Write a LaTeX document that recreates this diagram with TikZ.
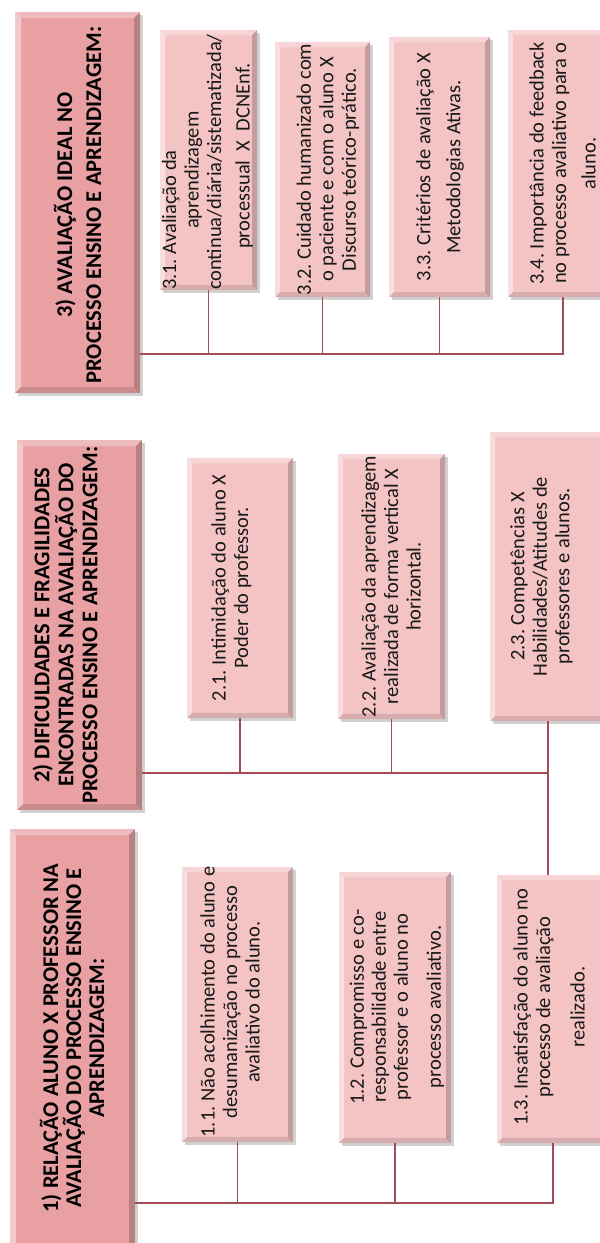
\documentclass[tikz,border=0pt]{standalone}
\usepackage{fontspec}
\setmainfont{Carlito}
\usetikzlibrary{shadows}
\definecolor{mainfill}{RGB}{232,160,162}
\definecolor{subfill}{RGB}{244,196,197}
\definecolor{conncol}{RGB}{164,76,86}
\frenchspacing
\tikzset{
  bevel/.style={path picture={
    \fill[white,opacity=0.45] (path picture bounding box.north west) -- (path picture bounding box.south west) -- ([xshift=#1,yshift=#1]path picture bounding box.south west) -- ([xshift=#1,yshift=-#1]path picture bounding box.north west) -- cycle;
    \fill[white,opacity=0.30] (path picture bounding box.north west) -- (path picture bounding box.north east) -- ([xshift=-#1,yshift=-#1]path picture bounding box.north east) -- ([xshift=#1,yshift=-#1]path picture bounding box.north west) -- cycle;
    \fill[black,opacity=0.20] (path picture bounding box.north east) -- (path picture bounding box.south east) -- ([xshift=-#1,yshift=#1]path picture bounding box.south east) -- ([xshift=-#1,yshift=-#1]path picture bounding box.north east) -- cycle;
    \fill[black,opacity=0.12] (path picture bounding box.south west) -- (path picture bounding box.south east) -- ([xshift=-#1,yshift=#1]path picture bounding box.south east) -- ([xshift=#1,yshift=#1]path picture bounding box.south west) -- cycle;
  }},
  mainbox/.style={rectangle, fill=mainfill, inner sep=0pt, bevel=6pt,
    drop shadow={shadow xshift=2.5pt, shadow yshift=-2.5pt, opacity=0.35}},
  subbox/.style={rectangle, fill=subfill, inner sep=0pt, bevel=5pt,
    drop shadow={shadow xshift=2.5pt, shadow yshift=-2.5pt, opacity=0.35}},
  maintxt/.style={rotate=90, align=center, inner sep=0pt, text=black,
    font=\bfseries\fontsize{22.5}{#1}\selectfont},
  subtxt/.style={rotate=90, align=center, inner sep=0pt, text=black!90,
    font=\fontsize{20.5}{#1}\selectfont},
  conn/.style={draw=conncol, line width=1.7pt},
}
\begin{document}
\begin{tikzpicture}[x=1pt, y=-1pt]
\useasboundingbox (0,0) rectangle (600,1243);
\clip (0,0) rectangle (600,1243);
\fill[white] (0,0) rectangle (600,1243);

% main boxes
\node[mainbox, minimum width=125pt, minimum height=381pt] (m3) at (77.5,202.5) {};
\node[mainbox, minimum width=125pt, minimum height=370pt] (m2) at (79.5,625) {};
\node[mainbox, minimum width=125pt, minimum height=426pt] (m1) at (72.5,1042) {};

% sub boxes group 3
\node[subbox, minimum width=97pt, minimum height=260pt] (s31) at (208.5,160) {};
\node[subbox, minimum width=95pt, minimum height=255pt] (s32) at (322.5,169.5) {};
\node[subbox, minimum width=101pt, minimum height=260pt] (s33) at (439.5,167) {};
\node[subbox, minimum width=110pt, minimum height=267pt] (s34) at (563,163.5) {};
% group 2
\node[subbox, minimum width=106pt, minimum height=260pt] (s21) at (240,588) {};
\node[subbox, minimum width=107pt, minimum height=265pt] (s22) at (391.5,586.5) {};
\node[subbox, minimum width=116pt, minimum height=289pt] (s23) at (548,576.5) {};
% group 1
\node[subbox, minimum width=111pt, minimum height=275pt] (s11) at (237.5,1004.5) {};
\node[subbox, minimum width=112pt, minimum height=271pt] (s12) at (395,1007.5) {};
\node[subbox, minimum width=112pt, minimum height=268pt] (s13) at (553,1009) {};

% texts
\node[maintxt=29pt] (t3) at (77.5,205) {3) AVALIAÇÃO IDEAL NO\\PROCESSO ENSINO E APRENDIZAGEM:};
\node[maintxt=24pt] (t2) at (65,625) {2) DIFICULDADES E FRAGILIDADES\\ENCONTRADAS NA AVALIAÇÃO DO\\PROCESSO ENSINO E APRENDIZAGEM:};
\node[maintxt=23pt] (t1) at (72,1038) {1) RELAÇÃO ALUNO X PROFESSOR NA\\AVALIAÇÃO DO PROCESSO ENSINO E\\APRENDIZAGEM:};

\node[subtxt=22.5pt, align=left] (t31) at (207.5,162) {3.1. Avaliação da\\\hspace*{61pt}aprendizagem\\continua/diária/sistematizada/\\[6pt]\hspace*{41pt}processual\ \ X\ \ DCNEnf.};
\node[subtxt=22.5pt] (t32) at (328,169.5) {3.2. Cuidado humanizado com\\o paciente e com o aluno X\\Discurso teórico-prático.};
\node[subtxt=30pt] (t33) at (440,167) {3.3. Critérios de avaliação X\\Metodologias Ativas.};
\node[subtxt=22.5pt] (t34) at (562.5,163.5) {3.4. Importância do feedback\\no processo avaliativo para o\\[7pt]aluno.};

\node[subtxt=22.5pt] (t21) at (231.5,588) {2.1. Intimidação do aluno X\\Poder do professor.};
\node[subtxt=22.5pt] (t22) at (391,586.5) {2.2. Avaliação da aprendizagem\\realizada de forma vertical X\\horizontal.};
\node[subtxt=22.5pt] (t23) at (541.5,576.5) {2.3. Competências X\\Habilidades/Atitudes de\\professores e alunos.};

\node[subtxt=22.5pt] (t11) at (230,1002) {1.1. Não acolhimento do aluno e\\desumanização no processo\\avaliativo do aluno.};
\node[subtxt=22pt] (t12) at (397,1007) {1.2. Compromisso e co-\\responsabilidade entre\\professor e o aluno no\\[11pt]processo avaliativo.};
\node[subtxt=22.5pt] (t13) at (549,1007) {1.3. Insatisfação do aluno no\\processo de avaliação\\[12pt]realizado.};

% connectors
\coordinate (h3) at (0,354);
\coordinate (h2) at (0,773);
\coordinate (h1) at (0,1203);
\draw[conn] (m3.east |- h3) -- (s34.south |- h3) -- (s34.south);
\draw[conn] (s31.south) -- (s31.south |- h3);
\draw[conn] (s32.south) -- (s32.south |- h3);
\draw[conn] (s33.south) -- (s33.south |- h3);

\draw[conn] (m2.east |- h2) -- (s23.south |- h2);
\draw[conn] (s21.south) -- (s21.south |- h2);
\draw[conn] (s22.south) -- (s22.south |- h2);
\draw[conn] (s23.south) -- (s23.south |- s13.north);

\draw[conn] (m1.east |- h1) -- (s13.south |- h1) -- (s13.south);
\draw[conn] (s11.south) -- (s11.south |- h1);
\draw[conn] (s12.south) -- (s12.south |- h1);
\end{tikzpicture}
\end{document}
